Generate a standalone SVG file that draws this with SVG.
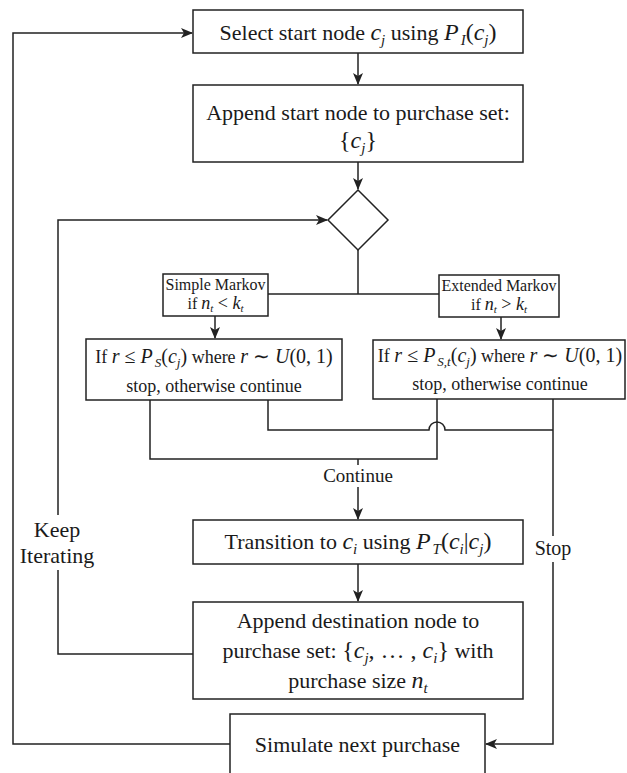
<svg xmlns="http://www.w3.org/2000/svg" width="627" height="773" viewBox="0 0 627 773">
<style>
.box{fill:#fff;stroke:#222;stroke-width:1.5}
.ln{fill:none;stroke:#222;stroke-width:1.5}
.t{font-family:"Liberation Serif","Times New Roman",serif;fill:#1a1a1a}
.m{font-style:italic}
.b22{font-size:22px}
.b18{font-size:18px}
.b16{font-size:16px}
.M22{font-size:24px}
.M18{font-size:20px}
</style>
<defs>
<marker id="ah" markerWidth="12" markerHeight="10" refX="11" refY="5" orient="auto" markerUnits="userSpaceOnUse">
<path d="M0,0 L12,5 L0,10 L3,5 z" fill="#222"/>
</marker>
</defs>
<rect width="627" height="773" fill="#fff"/>

<g id="connectors">
<path class="ln" d="M230,744 H13 V33 H192" marker-end="url(#ah)"/>
<path class="ln" d="M358,53 V84" marker-end="url(#ah)"/>
<path class="ln" d="M358,162 V189" marker-end="url(#ah)"/>
<path class="ln" d="M193,654 H58 V570"/>
<path class="ln" d="M58,515 V220 H327" marker-end="url(#ah)"/>
<path class="ln" d="M358,250 V294"/>
<path class="ln" d="M268,294 H439"/>
<path class="ln" d="M215,316 V338" marker-end="url(#ah)"/>
<path class="ln" d="M501,317 V339" marker-end="url(#ah)"/>
<path class="ln" d="M150,400 V459 H437 V399"/>
<path class="ln" d="M358,459 V465"/>
<path class="ln" d="M358,487 V519" marker-end="url(#ah)"/>
<path class="ln" d="M268,400 V430 H429 A8,8 0 0 1 445,430 H553"/>
<path class="ln" d="M553,399 V536"/>
<path class="ln" d="M553,562 V744 H486" marker-end="url(#ah)"/>
<path class="ln" d="M358,564 V601" marker-end="url(#ah)"/>
<text class="t" x="358" y="482" font-size="19" text-anchor="middle">Continue</text>
<text class="t" x="57" y="537" font-size="22" text-anchor="middle">Keep</text>
<text class="t" x="57" y="563" font-size="22" text-anchor="middle">Iterating</text>
<text class="t" x="553" y="555" font-size="20" text-anchor="middle">Stop</text>
</g>

<g id="select-start">
<rect class="box" x="193" y="10" width="330" height="43"/>
<text class="t b22" x="358" y="40" text-anchor="middle">Select start node <tspan class="m M22">c</tspan><tspan class="m" font-size="15" dy="5">j</tspan><tspan dy="-5"> using </tspan><tspan class="m M22">P</tspan><tspan class="m" font-size="15" dx="2" dy="5">I</tspan><tspan class="M22" dy="-5">(</tspan><tspan class="m M22">c</tspan><tspan class="m" font-size="15" dy="5">j</tspan><tspan class="M22" dy="-5">)</tspan></text>
</g>

<g id="append-start">
<rect class="box" x="193" y="85" width="330" height="77"/>
<text class="t b22" x="358" y="120" text-anchor="middle">Append start node to purchase set:</text>
<text class="t b22" x="358" y="148" text-anchor="middle"><tspan class="M22">{</tspan><tspan class="m M22">c</tspan><tspan class="m" font-size="15" dy="5">j</tspan><tspan class="M22" dy="-5">}</tspan></text>
</g>

<g id="decision">
<path class="box" d="M358,190 L388,220 L358,250 L328,220 Z"/>
</g>

<g id="simple-markov">
<rect class="box" x="163" y="274" width="105" height="42"/>
<text class="t b16" x="215.5" y="290" text-anchor="middle">Simple Markov</text>
<text class="t b16" x="215.5" y="309" text-anchor="middle">if <tspan class="m" font-size="18">n</tspan><tspan class="m" font-size="11" dy="3">t</tspan><tspan font-size="18" dy="-3"> &lt; </tspan><tspan class="m" font-size="18">k</tspan><tspan class="m" font-size="11" dy="3">t</tspan></text>
</g>

<g id="extended-markov">
<rect class="box" x="439" y="275" width="120" height="42"/>
<text class="t b16" x="499" y="291" text-anchor="middle">Extended Markov</text>
<text class="t b16" x="499" y="310" text-anchor="middle">if <tspan class="m" font-size="18">n</tspan><tspan class="m" font-size="11" dy="3">t</tspan><tspan font-size="18" dy="-3"> &gt; </tspan><tspan class="m" font-size="18">k</tspan><tspan class="m" font-size="11" dy="3">t</tspan></text>
</g>

<g id="simple-stop-check">
<rect class="box" x="86" y="339" width="256" height="61"/>
<text class="t b18" x="214" y="363" text-anchor="middle">If <tspan class="m M18">r</tspan><tspan class="M18"> ≤ </tspan><tspan class="m M18">P</tspan><tspan class="m" font-size="13" dx="2" dy="4">S</tspan><tspan class="M18" dy="-4">(</tspan><tspan class="m M18">c</tspan><tspan class="m" font-size="13" dy="4">j</tspan><tspan class="M18" dy="-4">)</tspan> where <tspan class="m M18">r</tspan><tspan class="M18"> ∼ </tspan><tspan class="m M18">U</tspan><tspan class="M18">(0, 1)</tspan></text>
<text class="t b18" x="214" y="392" text-anchor="middle">stop, otherwise continue</text>
</g>

<g id="extended-stop-check">
<rect class="box" x="373" y="340" width="252" height="59"/>
<text class="t b18" x="500" y="362" text-anchor="middle">If <tspan class="m M18">r</tspan><tspan class="M18"> ≤ </tspan><tspan class="m M18">P</tspan><tspan class="m" font-size="13" dx="2" dy="4">S,t</tspan><tspan class="M18" dy="-4">(</tspan><tspan class="m M18">c</tspan><tspan class="m" font-size="13" dy="4">j</tspan><tspan class="M18" dy="-4">)</tspan> where <tspan class="m M18">r</tspan><tspan class="M18"> ∼ </tspan><tspan class="m M18">U</tspan><tspan class="M18">(0, 1)</tspan></text>
<text class="t b18" x="500" y="390" text-anchor="middle">stop, otherwise continue</text>
</g>

<g id="transition">
<rect class="box" x="193" y="520" width="330" height="44"/>
<text class="t b22" x="358" y="549" text-anchor="middle">Transition to <tspan class="m M22">c</tspan><tspan class="m" font-size="15" dy="5">i</tspan><tspan dy="-5"> using </tspan><tspan class="m M22">P</tspan><tspan class="m" font-size="15" dx="2" dy="5">T</tspan><tspan class="M22" dy="-5">(</tspan><tspan class="m M22">c</tspan><tspan class="m" font-size="15" dy="5">i</tspan><tspan class="M22" dy="-5">|</tspan><tspan class="m M22">c</tspan><tspan class="m" font-size="15" dy="5">j</tspan><tspan class="M22" dy="-5">)</tspan></text>
</g>

<g id="append-destination">
<rect class="box" x="193" y="602" width="330" height="97"/>
<text class="t b22" x="358" y="628" text-anchor="middle">Append destination node to</text>
<text class="t b22" x="358" y="658" text-anchor="middle">purchase set: <tspan class="M22">{</tspan><tspan class="m M22">c</tspan><tspan class="m" font-size="15" dy="5">j</tspan><tspan class="M22" dy="-5">, … , </tspan><tspan class="m M22">c</tspan><tspan class="m" font-size="15" dy="5">i</tspan><tspan class="M22" dy="-5">}</tspan> with</text>
<text class="t b22" x="358" y="688" text-anchor="middle">purchase size <tspan class="m M22">n</tspan><tspan class="m" font-size="15" dy="5">t</tspan></text>
</g>

<g id="simulate-next">
<rect class="box" x="230" y="714" width="255" height="62"/>
<text class="t b22" x="357.5" y="752" text-anchor="middle">Simulate next purchase</text>
</g>
</svg>
